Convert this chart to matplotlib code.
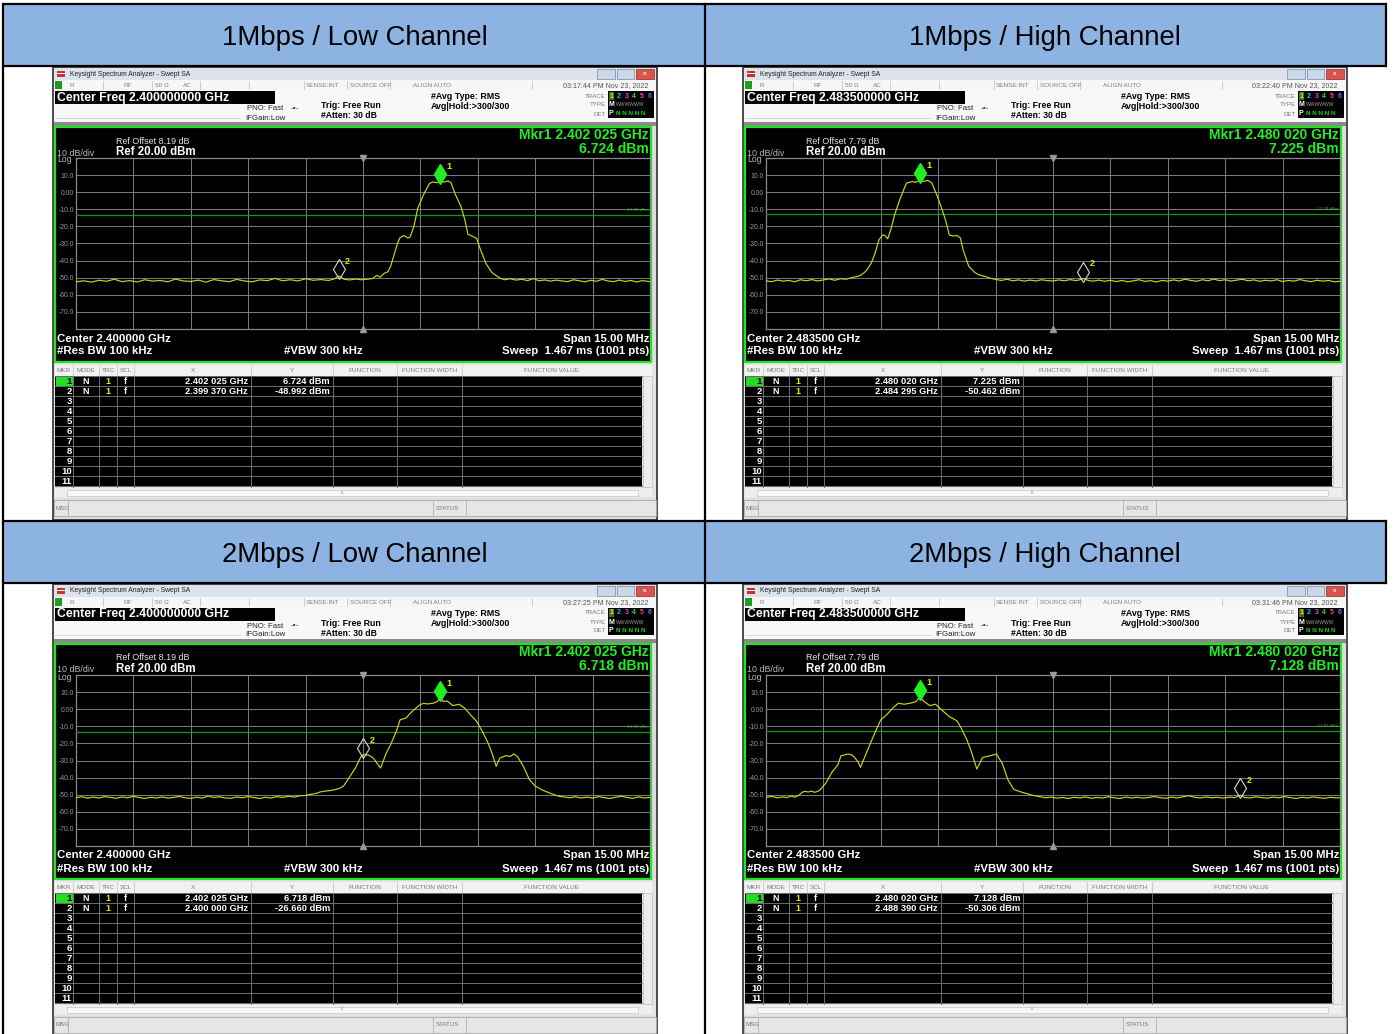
import numpy as np
import matplotlib
matplotlib.use("Agg")
import matplotlib.pyplot as plt
from matplotlib.patches import Rectangle
from matplotlib.transforms import offset_copy

W, H = 1393, 1034
plt.rcParams["font.family"] = ["Liberation Sans", "DejaVu Sans"]

# ---- values ----
TITLES = ["1Mbps / Low Channel", "1Mbps / High Channel",
          "2Mbps / Low Channel", "2Mbps / High Channel"]
CENTER_GHZ = ["2.400000", "2.483500", "2.400000", "2.483500"]
REF_OFFSET = [8.19, 7.79, 8.19, 7.79]
TIMESTAMPS = ["03:17:44 PM Nov 23, 2022", "03:22:40 PM Nov 23, 2022",
              "03:27:25 PM Nov 23, 2022", "03:31:46 PM Nov 23, 2022"]
DISPLAY_LINE = [-13.28, -12.78, -13.28, -12.87]
MKR1_FREQ = ["2.402 025", "2.480 020", "2.402 025", "2.480 020"]
MKR1_LEVEL = [6.724, 7.225, 6.718, 7.128]
MKR2_FREQ = ["2.399 370", "2.484 295", "2.400 000", "2.488 390"]
MKR2_LEVEL = [-48.992, -50.462, -26.660, -50.306]
Y_TICKS = [10, 0, -10, -20, -30, -40, -50, -60, -70]
Y_TICK_LABELS = ["10.0", "0.00", "-10.0", "-20.0", "-30.0", "-40.0", "-50.0", "-60.0", "-70.0"]

# trace points: (offset from center in MHz, level in dBm)
TRACE_1M_LOW = [
    (-7.5, -52.4), (-7.3, -51.8), (-7.1, -52.6), (-6.9, -51.5), (-6.7, -52.1), (-6.5, -50.9),
    (-6.3, -52.3), (-6.1, -51.7), (-5.9, -52.5), (-5.7, -51.2), (-5.5, -52.0), (-5.3, -51.6),
    (-5.1, -52.4), (-4.9, -50.8), (-4.7, -51.9), (-4.5, -52.2), (-4.3, -51.4), (-4.1, -52.6),
    (-3.9, -51.1), (-3.7, -51.8), (-3.5, -52.3), (-3.3, -51.0), (-3.1, -51.9), (-2.9, -52.4),
    (-2.7, -51.3), (-2.5, -51.7), (-2.3, -50.4), (-2.1, -51.8), (-1.9, -51.2), (-1.7, -51.9),
    (-1.5, -50.6), (-1.3, -51.5), (-1.1, -51.1), (-0.9, -51.6), (-0.75, -50.7), (-0.63, -49.0),
    (-0.5, -50.9), (-0.35, -51.3), (-0.2, -50.8), (-0.05, -51.2), (0.1, -50.9), (0.25, -50.5),
    (0.36, -48.6), (0.45, -49.8), (0.55, -47.5), (0.65, -46.5), (0.72, -43.5), (0.82, -36.0),
    (0.9, -30.0), (0.97, -26.5), (1.07, -25.3), (1.17, -26.8), (1.23, -26.2), (1.33, -20.0),
    (1.43, -9.5), (1.58, -1.5), (1.74, 5.2), (1.84, 6.0), (1.93, 5.5), (2.03, 6.7),
    (2.12, 5.9), (2.22, 6.6), (2.30, 5.6), (2.40, -0.6), (2.56, -8.4), (2.66, -16.0),
    (2.74, -24.5), (2.86, -25.8), (2.97, -27.0), (3.07, -33.6), (3.22, -42.0), (3.37, -47.0),
    (3.47, -48.6), (3.58, -50.3), (3.7, -51.2), (3.85, -50.6), (4.0, -51.4), (4.15, -50.9),
    (4.3, -51.7), (4.45, -50.5), (4.6, -51.8), (4.75, -51.3), (4.9, -52.0), (5.05, -51.4),
    (5.2, -51.9), (5.35, -52.3), (5.5, -51.2), (5.65, -51.8), (5.8, -52.4), (5.95, -51.5),
    (6.1, -52.1), (6.25, -51.0), (6.4, -51.9), (6.55, -52.3), (6.7, -51.4), (6.85, -52.2),
    (7.0, -51.6), (7.15, -52.5), (7.3, -51.7), (7.5, -52.3),
]
TRACE_1M_HIGH = [
    (-7.5, -51.9), (-7.35, -52.3), (-7.2, -51.4), (-7.05, -52.0), (-6.9, -51.6), (-6.75, -52.4),
    (-6.6, -51.2), (-6.45, -51.8), (-6.3, -51.1), (-6.15, -51.9), (-6.0, -51.3), (-5.85, -50.7),
    (-5.7, -51.5), (-5.55, -50.6), (-5.4, -50.9), (-5.3, -50.2), (-5.21, -49.7), (-5.1, -49.2),
    (-5.01, -48.3), (-4.93, -47.0), (-4.86, -45.4), (-4.75, -41.5), (-4.65, -35.7), (-4.55, -27.9),
    (-4.45, -25.0), (-4.38, -25.5), (-4.32, -27.3), (-4.24, -22.0), (-4.14, -13.3), (-3.99, -3.5),
    (-3.83, 5.3), (-3.68, 6.2), (-3.58, 5.8), (-3.48, 7.2), (-3.39, 6.3), (-3.27, 6.9),
    (-3.17, 5.5), (-3.02, -2.5), (-2.91, -9.4), (-2.81, -16.2), (-2.71, -25.0), (-2.61, -25.6),
    (-2.50, -25.4), (-2.42, -26.8), (-2.35, -33.6), (-2.20, -43.4), (-2.04, -47.0), (-1.95, -48.2),
    (-1.84, -48.9), (-1.75, -49.4), (-1.64, -50.3), (-1.5, -51.0), (-1.35, -51.6), (-1.2, -50.9),
    (-1.05, -51.8), (-0.9, -51.3), (-0.75, -52.0), (-0.6, -51.4), (-0.45, -51.9), (-0.3, -51.2),
    (-0.15, -51.7), (0.0, -51.9), (0.15, -51.3), (0.3, -51.8), (0.45, -51.1), (0.6, -51.7),
    (0.7, -51.2), (0.8, -50.5), (0.92, -51.6), (1.05, -52.0), (1.2, -51.4), (1.35, -52.1),
    (1.5, -51.5), (1.65, -52.3), (1.8, -51.6), (1.95, -52.4), (2.1, -51.8), (2.25, -51.2),
    (2.4, -52.2), (2.55, -51.7), (2.7, -52.5), (2.85, -51.6), (3.0, -52.0), (3.15, -51.3),
    (3.3, -51.9), (3.45, -50.9), (3.6, -51.6), (3.75, -52.1), (3.9, -51.2), (4.05, -51.8),
    (4.2, -50.8), (4.35, -51.7), (4.5, -51.2), (4.65, -52.0), (4.8, -51.4), (4.95, -50.9),
    (5.1, -51.8), (5.25, -51.3), (5.4, -52.1), (5.55, -51.5), (5.7, -51.9), (5.85, -51.2),
    (6.0, -52.2), (6.15, -51.6), (6.3, -52.0), (6.45, -51.1), (6.6, -51.8), (6.75, -52.3),
    (6.9, -51.5), (7.05, -52.0), (7.2, -51.6), (7.35, -52.4), (7.5, -52.1),
]
TRACE_2M_LOW = [
    (-7.5, -51.7), (-7.35, -51.2), (-7.2, -52.0), (-7.05, -51.4), (-6.9, -51.9), (-6.75, -51.1),
    (-6.6, -51.6), (-6.45, -52.1), (-6.3, -51.3), (-6.15, -51.8), (-6.0, -50.9), (-5.85, -51.7),
    (-5.7, -52.2), (-5.55, -51.5), (-5.4, -51.9), (-5.25, -51.3), (-5.1, -52.0), (-4.95, -51.6),
    (-4.8, -51.0), (-4.65, -51.8), (-4.5, -52.2), (-4.35, -51.4), (-4.2, -52.0), (-4.05, -50.8),
    (-3.9, -51.6), (-3.75, -51.2), (-3.6, -51.9), (-3.45, -52.1), (-3.3, -51.3), (-3.15, -51.8),
    (-3.0, -51.0), (-2.85, -51.7), (-2.7, -52.2), (-2.55, -51.5), (-2.4, -51.9), (-2.25, -51.1),
    (-2.1, -51.6), (-1.95, -50.9), (-1.8, -51.4), (-1.65, -50.6), (-1.53, -50.5), (-1.4, -49.9),
    (-1.23, -49.3), (-1.12, -48.4), (-1.02, -48.0), (-0.87, -47.6), (-0.72, -47.0), (-0.61, -46.2),
    (-0.51, -45.0), (-0.36, -40.0), (-0.20, -34.4), (-0.05, -27.6), (0.0, -26.7), (0.05, -26.4),
    (0.18, -27.2), (0.28, -28.8), (0.36, -31.5), (0.46, -34.4), (0.61, -25.6), (0.72, -20.8),
    (0.87, -13.0), (0.97, -6.2), (1.12, -5.2), (1.28, -1.4), (1.48, 2.5), (1.58, 3.4),
    (1.69, 3.1), (1.84, 3.5), (1.93, 4.4), (2.03, 6.7), (2.10, 4.5), (2.20, 4.8),
    (2.35, 2.1), (2.51, 2.9), (2.66, 0.6), (2.81, -3.3), (2.97, -7.2), (3.12, -13.0),
    (3.27, -19.8), (3.37, -25.6), (3.48, -33.4), (3.58, -28.5), (3.73, -27.2), (3.85, -27.6),
    (3.94, -26.2), (4.04, -27.8), (4.19, -33.4), (4.35, -41.2), (4.50, -45.0), (4.70, -47.4),
    (4.91, -49.3), (5.11, -50.9), (5.25, -51.3), (5.4, -51.8), (5.55, -51.2), (5.7, -51.9),
    (5.85, -51.4), (6.0, -52.0), (6.15, -51.1), (6.3, -51.7), (6.45, -52.2), (6.6, -51.5),
    (6.75, -50.9), (6.9, -51.6), (7.05, -52.1), (7.2, -51.3), (7.35, -51.9), (7.5, -51.6),
]
TRACE_2M_HIGH = [
    (-7.5, -51.6), (-7.35, -51.0), (-7.2, -51.8), (-7.05, -51.3), (-6.95, -51.7), (-6.85, -50.8),
    (-6.75, -51.4), (-6.65, -50.5), (-6.55, -48.6), (-6.49, -48.0), (-6.4, -48.4), (-6.3, -47.9),
    (-6.24, -48.6), (-6.15, -48.1), (-6.08, -47.0), (-5.93, -43.0), (-5.78, -37.0), (-5.62, -32.4),
    (-5.54, -27.2), (-5.45, -26.8), (-5.37, -26.2), (-5.28, -26.6), (-5.21, -27.6), (-5.1, -30.5),
    (-5.03, -34.0), (-4.91, -27.4), (-4.75, -18.8), (-4.60, -11.0), (-4.50, -6.2), (-4.35, -3.3),
    (-4.19, 0.6), (-4.04, 3.5), (-3.89, 2.9), (-3.73, 3.5), (-3.58, 4.5), (-3.48, 7.1),
    (-3.37, 4.5), (-3.22, 2.1), (-3.07, 2.9), (-2.91, -0.4), (-2.71, -4.3), (-2.51, -6.8),
    (-2.40, -11.0), (-2.25, -17.9), (-2.15, -23.7), (-1.99, -35.0), (-1.84, -28.2), (-1.64, -27.2),
    (-1.48, -26.2), (-1.33, -31.5), (-1.18, -41.2), (-1.02, -47.0), (-0.82, -48.5), (-0.65, -49.6),
    (-0.51, -50.5), (-0.35, -51.1), (-0.2, -51.8), (-0.05, -51.4), (0.1, -52.0), (0.25, -51.6),
    (0.4, -52.2), (0.55, -51.5), (0.7, -51.9), (0.85, -51.3), (1.0, -52.1), (1.15, -51.6),
    (1.3, -51.9), (1.45, -51.2), (1.6, -51.8), (1.75, -52.2), (1.9, -51.4), (2.05, -51.9),
    (2.2, -51.5), (2.35, -52.0), (2.5, -51.6), (2.65, -51.1), (2.8, -51.7), (2.95, -52.1),
    (3.1, -51.4), (3.25, -51.9), (3.4, -51.2), (3.55, -50.6), (3.7, -51.5), (3.85, -51.9),
    (4.0, -51.3), (4.15, -51.8), (4.3, -51.5), (4.45, -52.0), (4.6, -51.4), (4.75, -51.7),
    (4.89, -50.3), (5.0, -51.6), (5.15, -51.9), (5.3, -51.2), (5.45, -51.7), (5.6, -52.0),
    (5.75, -51.4), (5.9, -51.8), (6.05, -51.1), (6.2, -51.7), (6.35, -52.2), (6.5, -51.5),
    (6.65, -51.9), (6.8, -51.3), (6.95, -51.8), (7.1, -52.1), (7.25, -51.5), (7.4, -51.9),
    (7.5, -51.7),
]
TRACES = [TRACE_1M_LOW, TRACE_1M_HIGH, TRACE_2M_LOW, TRACE_2M_HIGH]

TABLE_HEAD = ["MKR", "MODE", "TRC", "SCL", "X", "Y", "FUNCTION", "FUNCTION WIDTH", "FUNCTION VALUE"]
TRACE_DIGIT_COLORS = ["#f0f000", "#00d0ff", "#e040e0", "#40e040", "#ff40a0", "#6a6aff"]

fig = plt.figure(figsize=(W / 100, H / 100), dpi=100)
bg = fig.add_axes([0, 0, 1, 1])
bg.set_xlim(0, W)
bg.set_ylim(H, 0)
bg.axis("off")

GREEN = "#22ee22"


def rect(x0, y0, x1, y1, fc, ec="none", lw=0, z=1):
    bg.add_patch(Rectangle((x0, y0), x1 - x0, y1 - y0, fc=fc, ec=ec, lw=lw, zorder=z))


def txt(x, y, s, size=6, color="black", ha="left", weight="normal", z=5):
    bg.text(x, y, s, fontsize=size, color=color, ha=ha, va="center",
            fontweight=weight, zorder=z)


def draw_panel(i, ox, oy):
    X = lambda v: v + ox
    Y = lambda v: v + oy
    center = float(CENTER_GHZ[i])

    # window + title bar
    rect(X(53), Y(67), X(657), Y(520), "#dcdcdc", ec="#303030", lw=1.2)
    rect(X(54), Y(68), X(656), Y(80), "#dce3ec")
    rect(X(57), Y(71), X(65), Y(77), "#c9302c")
    rect(X(57), Y(73), X(65), Y(74.2), "#f4f4f4", z=2)
    txt(X(70), Y(74), "Keysight Spectrum Analyzer - Swept SA", size=4.9, color="#222222")
    rect(X(597), Y(69), X(615), Y(78.5), "#cbd8e8", ec="#8797ad", lw=0.6)
    rect(X(617), Y(69), X(634), Y(78.5), "#cbd8e8", ec="#8797ad", lw=0.6)
    rect(X(636), Y(69), X(654), Y(78.5), "#d9534f", ec="#a33a36", lw=0.6)
    txt(X(645), Y(73.5), "x", size=4.5, color="white", ha="center", weight="bold")

    # status row
    rect(X(54), Y(80), X(656), Y(90), "#f6f6f6")
    rect(X(55), Y(81), X(62), Y(89), "#1c9e1c")
    for sx in [103, 152, 200, 249, 304, 347, 390, 532]:
        bg.plot([X(sx), X(sx)], [Y(81), Y(89)], color="#c4c4c4", lw=0.6, zorder=2)
    for sx, s in [(70, "R"), (124, "RF"), (155, "50 Ω"), (183, "AC"), (306, "SENSE:INT"),
                  (350, "SOURCE OFF"), (413, "ALIGN AUTO")]:
        txt(X(sx), Y(85.5), s, size=4.6, color="#808080")
    txt(X(648), Y(86), TIMESTAMPS[i], size=5.1, color="#555555", ha="right")

    # settings area
    rect(X(54), Y(90), X(656), Y(122), "#f8f8f8")
    rect(X(55), Y(91), X(275), Y(104), "black", z=2)
    txt(X(57), Y(97.5), f"Center Freq {CENTER_GHZ[i]}000 GHz", size=8.8, color="white", weight="bold")
    bg.plot([X(55), X(240)], [Y(117.5), Y(117.5)], color="#d0d0d0", lw=0.6, zorder=2)
    txt(X(247), Y(109), "PNO: Fast", size=5.6, color="#222222")
    txt(X(245), Y(118), "IFGain:Low", size=5.7, color="#222222")
    txt(X(291), Y(108.5), "-•-", size=6, color="#333333")
    txt(X(321), Y(106), "Trig: Free Run", size=6.3, weight="bold")
    txt(X(321), Y(116), "#Atten: 30 dB", size=6.2, weight="bold")
    txt(X(431), Y(96.5), "#Avg Type: RMS", size=6.4, weight="bold")
    txt(X(431), Y(106.5), "Avg|Hold:>300/300", size=6.4, weight="bold")
    txt(X(606), Y(96), "TRACE", size=4.4, color="#777777", ha="right")
    txt(X(606), Y(105), "TYPE", size=4.4, color="#777777", ha="right")
    txt(X(606), Y(114), "DET", size=4.4, color="#777777", ha="right")
    rect(X(608), Y(91), X(654), Y(118), "black", z=2)
    rect(X(608.5), Y(92), X(614), Y(100), "#446a1c", z=3)
    for k, c in enumerate(TRACE_DIGIT_COLORS):
        txt(X(611.2 + 7.6 * k), Y(96), str(k + 1), size=5, color=c, ha="center", weight="bold")
    txt(X(611.2), Y(105), "M", size=5, color="white", ha="center", weight="bold")
    txt(X(616), Y(105), "WWWWWW", size=3.6, color="#9a9a9a")
    txt(X(611.2), Y(113.5), "P", size=5, color="white", ha="center", weight="bold")
    txt(X(616), Y(113.5), "N N N N N", size=4.6, color="#22cc22", weight="bold")
    rect(X(54), Y(122), X(656), Y(126), "#8a8a8a")

    # graph frame and annotations
    rect(X(55), Y(127), X(651), Y(362), "black", ec="#1ee61e", lw=1.6, z=2)
    txt(X(116), Y(141), f"Ref Offset {REF_OFFSET[i]:.2f} dB", size=6.4, color="#e6e6e6")
    txt(X(116), Y(152), "Ref 20.00 dBm", size=8.3, color="white", weight="bold")
    txt(X(57), Y(153), "10 dB/div", size=6.4, color="#b8b8b8")
    txt(X(57), Y(160), "Log", size=6.2, color="#b8b8b8")
    txt(X(649), Y(135), f"Mkr1 {MKR1_FREQ[i]} GHz", size=10.0, color=GREEN, ha="right", weight="bold")
    txt(X(649), Y(149), f"{MKR1_LEVEL[i]:.3f} dBm", size=10.0, color=GREEN, ha="right", weight="bold")
    txt(X(57), Y(338.5), f"Center {CENTER_GHZ[i]} GHz", size=8.2, color="white", weight="bold")
    txt(X(57), Y(351.5), "#Res BW 100 kHz", size=8.2, color="white", weight="bold")
    txt(X(323), Y(351.5), "#VBW 300 kHz", size=8.2, color="white", ha="center", weight="bold")
    txt(X(649), Y(338.5), "Span 15.00 MHz", size=8.2, color="white", ha="right", weight="bold")
    txt(X(649), Y(351.5), "Sweep  1.467 ms (1001 pts)", size=8.2, color="white", ha="right", weight="bold")

    # graticule with the trace
    gx0, gx1, gy0, gy1 = X(76), X(650), Y(158), Y(329)
    ax = fig.add_axes([gx0 / W, 1 - gy1 / H, (gx1 - gx0) / W, (gy1 - gy0) / H])
    ax.set_facecolor("black")
    ax.set_zorder(3)
    ax.set_xlim(-7.5, 7.5)
    ax.set_ylim(-80, 20)
    ax.set_xticks([-6, -4.5, -3, -1.5, 0, 1.5, 3, 4.5, 6])
    ax.set_yticks(Y_TICKS)
    ax.set_yticklabels(Y_TICK_LABELS)
    ax.tick_params(axis="x", length=0, labelbottom=False)
    ax.tick_params(axis="y", length=0, pad=1.5, labelsize=4.9, labelcolor="#9a9a9a")
    ax.grid(True, color="#7c7c7c", lw=0.7)
    for sp in ax.spines.values():
        sp.set_color("#8a8a8a")
        sp.set_linewidth(0.9)
    ax.axhline(DISPLAY_LINE[i], color="#0c9a0c", lw=0.9, zorder=3)
    ax.text(7.45, DISPLAY_LINE[i] + 1.6, f"{DISPLAY_LINE[i]:.2f} dBm", fontsize=3.2,
            color="#22bb22", ha="right", va="bottom")
    f, lev = zip(*TRACES[i])
    ax.plot(f, lev, color="#d2d214", lw=0.85, zorder=4)
    ax.plot(0, 20, marker="v", color="#9a9a9a", ms=4, clip_on=False, zorder=5)
    ax.plot(0, -80, marker="^", color="#9a9a9a", ms=4, clip_on=False, zorder=5)

    up = offset_copy(ax.transData, fig=fig, x=0, y=5, units="points")
    m1 = (float(MKR1_FREQ[i].replace(" ", "")) - center) * 1000
    m2 = (float(MKR2_FREQ[i].replace(" ", "")) - center) * 1000
    ax.plot(m1, MKR1_LEVEL[i], marker="d", ms=10, color=GREEN, mec=GREEN,
            transform=up, clip_on=False, zorder=6)
    ax.plot(m2, MKR2_LEVEL[i], marker="d", ms=10, mfc="none", mec="#d8d8d8", mew=0.8,
            transform=up, clip_on=False, zorder=6)
    for m, lvl, lab in [(m1, MKR1_LEVEL[i], "1"), (m2, MKR2_LEVEL[i], "2")]:
        ax.annotate(lab, (m, lvl), xytext=(4.5, 10.5), textcoords="offset points",
                    color="#f0e600", fontsize=6.5, fontweight="bold", ha="left", va="center",
                    zorder=7)

    # marker table
    rect(X(54), Y(362), X(656), Y(499), "#e4e4e4")
    rect(X(55), Y(365), X(652), Y(375.5), "#f2f2f2")
    rect(X(55), Y(376), X(642), Y(487), "black", z=2)
    cols = [55, 73, 99, 117, 134, 251, 333, 397, 462, 642]
    for k, name in enumerate(TABLE_HEAD):
        txt(X((cols[k] + cols[k + 1]) / 2), Y(370.5), name, size=4.6, color="#7a7a7a", ha="center")
    for c in cols[1:-1]:
        bg.plot([X(c), X(c)], [Y(365), Y(375.5)], color="#c8c8c8", lw=0.6, zorder=3)
        bg.plot([X(c), X(c)], [Y(376), Y(487)], color="#6e6e6e", lw=0.7, zorder=3)
    for r in range(12):
        bg.plot([X(55), X(642)], [Y(376 + 10 * r), Y(376 + 10 * r)], color="#6e6e6e", lw=0.7, zorder=3)
    rect(X(55.5), Y(376.5), X(72.5), Y(385.5), "#22dd22", z=4)
    for r in range(11):
        yy = Y(381.5 + 10 * r)
        txt(X(72), yy, str(r + 1), size=6.8, color="black" if r == 0 else "white", ha="right", weight="bold")
    rows = [(MKR1_FREQ[i], MKR1_LEVEL[i]), (MKR2_FREQ[i], MKR2_LEVEL[i])]
    for r, (fq, lv) in enumerate(rows):
        yy = Y(381.5 + 10 * r)
        txt(X(86), yy, "N", size=6.4, color="white", ha="center", weight="bold")
        txt(X(108), yy, "1", size=6.4, color="#f0e600", ha="center", weight="bold")
        txt(X(125.5), yy, "f", size=6.4, color="white", ha="center", weight="bold")
        txt(X(248), yy, f"{fq} GHz", size=6.7, color="white", ha="right", weight="bold")
        txt(X(330), yy, f"{lv:.3f} dBm", size=6.7, color="white", ha="right", weight="bold")
    rect(X(643), Y(376), X(652), Y(487), "#ececec", ec="#bdbdbd", lw=0.5)
    rect(X(55), Y(488), X(652), Y(497), "#eeeeee")
    rect(X(67), Y(489.5), X(638), Y(495.5), "#f8f8f8", ec="#c6c6c6", lw=0.5)
    txt(X(342), Y(492.5), "III", size=3.2, color="#888888", ha="center")

    # message bar
    rect(X(54), Y(500), X(656), Y(516), "#e6e6e6", ec="#a8a8a8", lw=0.6)
    for sx in [68, 433, 466]:
        bg.plot([X(sx), X(sx)], [Y(501), Y(515)], color="#b0b0b0", lw=0.6, zorder=2)
    txt(X(56), Y(508), "MSG", size=4.4, color="#777777")
    txt(X(436), Y(508), "STATUS", size=4.4, color="#777777")


for i, (ox, oy) in enumerate([(0, 0), (690, 0), (0, 517), (690, 517)]):
    draw_panel(i, ox, oy)

# table frame with the blue header rows
for y0, y1 in [(4, 66), (521, 583)]:
    rect(3, y0, 1386, y1, "#8db3e2", z=8)
    for k, xc in enumerate([355, 1045]):
        row = 0 if y0 < 100 else 2
        txt(xc, (y0 + y1) / 2 + 3, TITLES[row + k], size=19.8, color="black", ha="center", z=9)
    for yy in (y0, y1):
        bg.plot([3, 1386], [yy, yy], color="black", lw=1.6, zorder=10, solid_capstyle="butt")
    bg.plot([1386, 1386], [y0, y1], color="black", lw=1.6, zorder=10)
bg.plot([3, 3], [4, H], color="black", lw=1.6, zorder=10)
bg.plot([705, 705], [4, H], color="black", lw=1.6, zorder=10)

fig.savefig("out.png", dpi=100)
